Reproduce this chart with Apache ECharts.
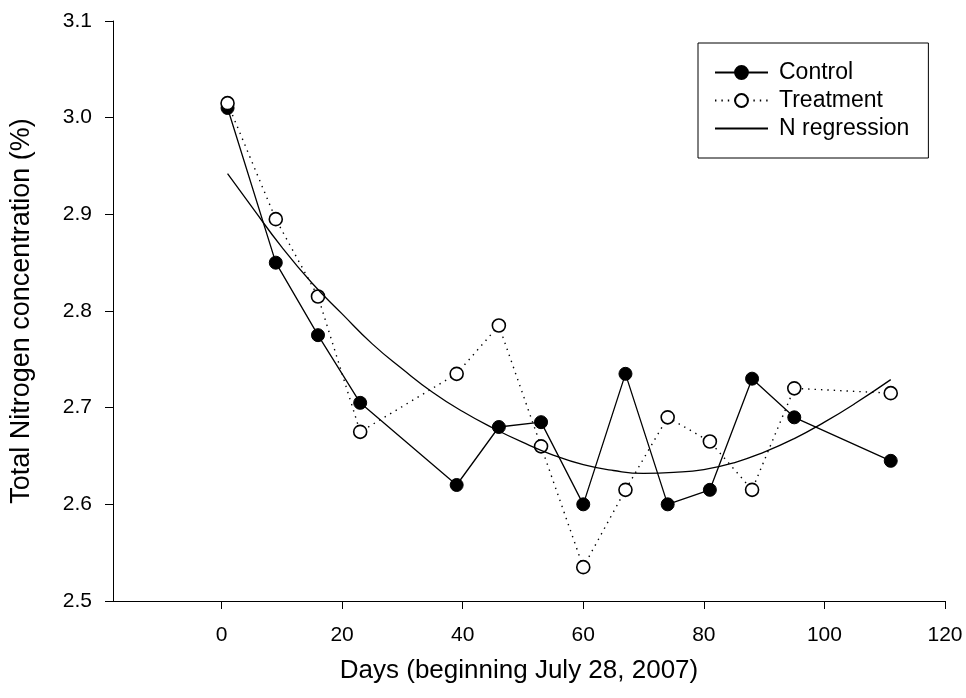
<!DOCTYPE html>
<html>
<head>
<meta charset="utf-8">
<title>Total Nitrogen concentration</title>
<script src="https://cdn.jsdelivr.net/npm/echarts@6/dist/echarts.min.js"></script>
<style>
    html, body { margin: 0; padding: 0; background: #fff; }
    #nChart { width: 966px; height: 698px; }
</style>
</head>
<body>
<div id="nChart"></div>
<script>
// days since July 28, 2007
var days = [1, 9, 16, 23, 39, 46, 53, 60, 67, 74, 81, 88, 95, 111];
var controlData = [3.01, 2.85, 2.775, 2.705, 2.62, 2.68, 2.685, 2.60, 2.735, 2.60, 2.615, 2.73, 2.69, 2.645];
var treatmentData = [3.015, 2.895, 2.815, 2.675, 2.735, 2.785, 2.66, 2.535, 2.615, 2.69, 2.665, 2.615, 2.72, 2.715];
// regression curve
var regDays = [1, 5, 10, 15, 20, 25, 30, 35, 40, 45, 50, 55, 60, 65, 70, 75, 80, 85, 90, 95, 100, 105, 111];
var regData = [2.942, 2.908, 2.866, 2.829, 2.797, 2.766, 2.740, 2.716, 2.696, 2.679, 2.664, 2.651, 2.641,
    2.635, 2.632, 2.633, 2.636, 2.643, 2.654, 2.668, 2.685, 2.704, 2.729];
var xTicks = [0, 20, 40, 60, 80, 100, 120];

var font = 'Liberation Sans, Arial, sans-serif';

var pairs = function (xs, ys) {
    var out = [];
    for (var i = 0; i < xs.length; i++) {
        out.push([xs[i], ys[i]]);
    }
    return out;
};

var getOption = function () {
    return {
        animation: false,
        backgroundColor: '#fff',
        textStyle: { fontFamily: font, color: '#000' },
        grid: {
            left: 112,
            right: 21,
            top: 21,
            bottom: 97
        },
        legend: {
            left: 698,
            top: 43,
            orient: 'vertical',
            align: 'left',
            borderColor: '#000',
            borderWidth: 1,
            padding: [18, 19, 18, 16],
            itemWidth: 53,
            itemHeight: 16,
            itemGap: 5,
            textStyle: { fontFamily: font, fontSize: 23, color: '#000', padding: [0, 0, 0, 6] },
            data: [
                { name: 'Control' },
                { name: 'Treatment' },
                { name: 'N regression', itemStyle: { opacity: 0 } }
            ]
        },
        xAxis: {
            type: 'value',
            min: -18,
            max: 120,
            name: 'Days (beginning July 28, 2007)',
            nameLocation: 'middle',
            nameGap: 57,
            nameTextStyle: { fontFamily: font, fontSize: 26, color: '#000', padding: [0, 20, 0, 0] },
            axisLine: { onZero: false, lineStyle: { color: '#000', width: 1 } },
            axisTick: { show: true, length: 8, customValues: xTicks, lineStyle: { color: '#000' } },
            axisLabel: { margin: 24, fontSize: 21, color: '#000', fontFamily: font, customValues: xTicks },
            splitLine: { show: false }
        },
        yAxis: {
            type: 'value',
            min: 2.5,
            max: 3.1,
            interval: 0.1,
            name: 'Total Nitrogen concentration (%)',
            nameLocation: 'middle',
            nameGap: 78,
            nameTextStyle: { fontFamily: font, fontSize: 27, color: '#000' },
            axisLine: { show: true, onZero: false, lineStyle: { color: '#000', width: 1 } },
            axisTick: { show: true, length: 8, lineStyle: { color: '#000' } },
            axisLabel: {
                margin: 21,
                fontSize: 21,
                color: '#000',
                fontFamily: font,
                formatter: function (v) { return v.toFixed(1); }
            },
            splitLine: { show: false }
        },
        series: [
            {
                name: 'Control',
                type: 'line',
                data: pairs(days, controlData),
                symbol: 'circle',
                symbolSize: 13,
                lineStyle: { color: '#000', width: 1.3 },
                itemStyle: { color: '#000', borderColor: '#000', borderWidth: 1 },
                z: 2
            },
            {
                name: 'Treatment',
                type: 'line',
                data: pairs(days, treatmentData),
                symbol: 'circle',
                symbolSize: 13,
                lineStyle: { color: '#000', width: 1.4, type: [1.4, 5] },
                itemStyle: { color: '#fff', borderColor: '#000', borderWidth: 1.6 },
                z: 3
            },
            {
                name: 'N regression',
                type: 'line',
                data: pairs(regDays, regData),
                smooth: true,
                showSymbol: false,
                symbol: 'none',
                lineStyle: { color: '#000', width: 1.3 },
                itemStyle: { color: '#000' },
                z: 4
            }
        ]
    };
};

var myChart = echarts.init(document.getElementById('nChart'));
myChart.setOption(getOption());
window.onresize = myChart.resize;
</script>
</body>
</html>
